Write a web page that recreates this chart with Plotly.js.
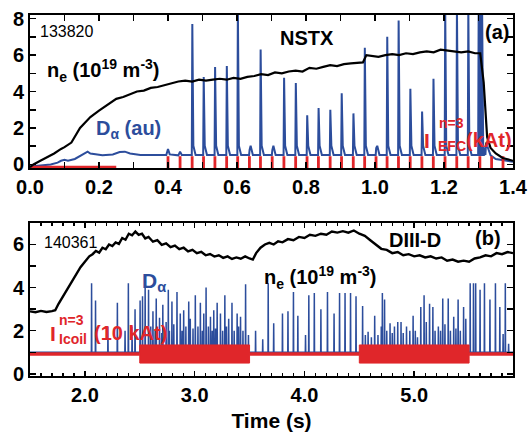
<!DOCTYPE html>
<html>
<head>
<meta charset="utf-8">
<script src="https://cdn.plot.ly/plotly-3.0.1.min.js"></script>
<style>html,body{margin:0;padding:0;background:#fff;}#chart{width:531px;height:441px;}</style>
</head>
<body>
<div id="chart"></div>
<script>
// ---------- Panel (a) NSTX 133820 ----------
const neA_t = [0.00,0.01,0.03,0.05,0.07,0.09,0.10,0.12,0.13,0.145,0.16,0.175,0.20,0.225,0.25,0.27,0.29,0.31,0.33,0.35,0.37,0.39,0.41,0.43,0.45,0.47,0.49,0.51,0.53,0.55,0.57,0.59,0.61,0.63,0.65,0.67,0.69,0.71,0.73,0.75,0.77,0.79,0.81,0.83,0.85,0.87,0.89,0.91,0.93,0.95,0.965,0.975,0.99,1.01,1.03,1.05,1.07,1.09,1.11,1.13,1.15,1.17,1.19,1.21,1.23,1.25,1.27,1.29,1.305,1.315,1.325,1.335,1.35,1.37,1.40];
const neA_v = [-0.15,0.0,0.2,0.4,0.6,0.85,0.95,1.2,1.5,2.0,2.3,2.6,2.95,3.3,3.6,3.7,3.85,4.0,4.05,4.2,4.25,4.35,4.45,4.55,4.6,4.55,4.65,4.6,4.65,4.7,4.65,4.75,4.7,4.8,4.85,4.95,4.9,5.05,5.0,5.1,5.15,5.1,5.3,5.25,5.35,5.45,5.4,5.5,5.55,5.6,5.6,6.0,5.95,5.9,6.0,6.05,6.0,6.1,6.05,6.15,6.2,6.15,6.3,6.25,6.2,6.15,6.2,6.1,6.1,4.5,1.5,0.9,0.6,0.35,0.2];

// D-alpha (au) early baseline before ELM pacing
const daA_baseT = [0.00,0.03,0.06,0.08,0.09,0.10,0.11,0.13,0.145,0.16,0.167,0.175,0.19,0.21,0.24,0.26,0.275,0.29,0.32,0.36,0.395,0.40,0.405,0.43,0.435,0.44,0.46];
const daA_baseV = [-0.12,-0.05,0.0,0.1,0.2,0.25,0.2,0.3,0.45,0.6,0.7,0.6,0.55,0.5,0.55,0.68,0.7,0.6,0.52,0.5,0.52,0.85,0.55,0.5,0.7,0.52,0.52];
const daA_level = 0.52;
// ELM spike times and peak heights (au)
const elmA_t = [0.470,0.503,0.536,0.570,0.602,0.636,0.668,0.702,0.736,0.770,0.803,0.836,0.870,0.903,0.937,0.970,1.003,1.035,1.068,1.102,1.136,1.169,1.203,1.237,1.270,1.300,1.305,1.310];
const elmA_p = [7.7,4.8,5.35,5.4,8.6,0.8,6.3,0.8,4.75,4.47,2.7,3.1,3.0,3.9,2.8,6.4,0.9,7.0,7.9,4.15,2.9,4.7,8.6,8.6,8.6,8.6,8.6,8.6];
const daA_tailT = [1.322,1.335,1.35,1.40];
const daA_tailV = [1.2,0.5,0.3,0.15];

// n=3 EFC current (kAt): DC segment and pulse train
const efcDC_t = [0.0,0.25];
const efcDC_v = [-0.15,-0.15];
const efcPulse_t = [0.400,0.435,0.470,0.503,0.536,0.570,0.602,0.636,0.668,0.702,0.736,0.770,0.803,0.836,0.870,0.903,0.937,0.970,1.003,1.035,1.068,1.102,1.136,1.169,1.203,1.237,1.270,1.304,1.338,1.371];
const efcPulse_lo = -0.2;
const efcPulse_hi = 0.45;

// ---------- Panel (b) DIII-D 140361 ----------
const neB_t = [1.50,1.55,1.60,1.65,1.70,1.73,1.76,1.80,1.84,1.88,1.92,1.96,2.00,2.04,2.07,2.10,2.13,2.16,2.19,2.22,2.25,2.28,2.31,2.34,2.37,2.40,2.43,2.46,2.49,2.52,2.55,2.58,2.62,2.66,2.70,2.74,2.78,2.82,2.86,2.90,2.94,2.98,3.02,3.06,3.10,3.14,3.18,3.22,3.26,3.30,3.34,3.38,3.42,3.46,3.50,3.53,3.56,3.60,3.64,3.68,3.72,3.76,3.80,3.85,3.90,3.95,4.00,4.05,4.10,4.15,4.20,4.25,4.30,4.35,4.40,4.45,4.50,4.55,4.60,4.65,4.70,4.75,4.80,4.85,4.90,4.95,5.00,5.05,5.10,5.15,5.20,5.25,5.30,5.35,5.40,5.45,5.50,5.55,5.60,5.65,5.70,5.75,5.80,5.85,5.90];
const neB_v = [2.90,2.86,2.92,2.87,2.91,2.95,3.25,3.6,3.95,4.3,4.65,4.95,5.2,5.45,5.55,5.7,5.62,5.85,5.78,6.0,5.93,6.1,6.03,6.3,6.22,6.5,6.43,6.6,6.45,6.5,6.28,6.35,6.13,6.2,5.98,6.05,5.88,5.95,5.78,5.85,5.68,5.75,5.6,5.66,5.5,5.56,5.44,5.5,5.38,5.45,5.33,5.4,5.34,5.45,5.35,5.3,5.6,5.85,6.0,6.08,6.0,6.15,6.1,6.25,6.2,6.35,6.3,6.45,6.4,6.5,6.45,6.6,6.55,6.62,6.55,6.65,6.5,6.4,6.2,6.0,5.8,5.75,5.6,5.65,5.5,5.55,5.45,5.5,5.4,5.45,5.35,5.4,5.25,5.3,5.2,5.25,5.2,5.35,5.4,5.5,5.45,5.6,5.55,5.65,5.6];

const daB_level = 1.0;
const elmB_t = [2.061,2.097,2.21,2.296,2.366,2.396,2.43,2.457,2.503,2.525,2.549,2.58,2.60,2.62,2.64,2.65,2.68,2.70,2.71,2.74,2.76,2.77,2.793,2.81,2.839,2.869,2.885,2.90,2.92,2.946,2.96,2.985,3.006,3.03,3.052,3.07,3.083,3.104,3.125,3.144,3.16,3.174,3.19,3.205,3.235,3.255,3.275,3.29,3.31,3.34,3.36,3.387,3.40,3.418,3.44,3.464,3.49,3.555,3.62,3.67,3.72,3.80,3.85,3.90,3.94,4.01,4.04,4.09,4.15,4.21,4.27,4.32,4.37,4.42,4.47,4.53,4.555,4.58,4.61,4.64,4.67,4.70,4.71,4.73,4.75,4.78,4.80,4.82,4.85,4.88,4.90,4.93,4.96,4.99,5.01,5.03,5.06,5.09,5.11,5.14,5.17,5.19,5.22,5.24,5.26,5.28,5.31,5.33,5.36,5.38,5.40,5.42,5.45,5.47,5.51,5.54,5.56,5.60,5.64,5.69,5.74,5.78,5.81,5.83,5.86];
const elmB_p = [4.2,3.4,2.2,3.3,2.0,4.2,2.2,3.0,3.4,3.6,4.2,3.9,2.2,2.9,2.0,3.5,2.6,1.9,3.2,2.4,3.9,2.0,3.35,2.3,3.8,2.8,2.0,2.95,2.2,3.35,2.55,2.1,3.65,2.2,3.3,2.0,2.8,4.0,2.2,2.65,2.0,2.95,2.1,3.3,2.8,2.0,3.65,2.2,2.55,3.3,2.0,2.8,2.2,2.65,2.0,4.15,1.8,2.0,1.6,4.2,2.35,2.8,2.9,3.8,2.7,1.8,3.65,3.75,3.0,3.8,2.8,3.75,3.75,3.75,3.6,3.15,1.8,1.95,1.7,2.7,1.8,2.2,3.75,3.45,2.0,2.35,1.9,2.2,2.4,2.4,1.9,2.2,2.0,2.7,2.0,1.7,3.1,3.65,2.4,3.25,3.1,2.0,2.2,2.0,3.5,2.3,3.5,2.0,2.65,2.1,3.45,2.0,3.1,2.55,4.2,4.2,4.2,3.9,4.2,3.45,4.2,3.1,1.85,4.2,1.4];

// n=3 I-coil current (10 kAt): off level and on windows
const icoilOff_level = 0.92;
const icoilOn_start = [2.5,4.5];
const icoilOn_end = [3.5,5.5];
const icoilOn_lo = 0.5;
const icoilOn_hi = 1.34;

// ---------- Colours / fonts ----------
const BLUE = '#2c4d9c';
const RED = '#e0262a';
const FF = "'Liberation Sans Narrow', 'Liberation Sans', Arial, sans-serif";

// ---------- Build traces ----------
const traces = [];

// Panel a: D-alpha
(function(){
  const x = daA_baseT.slice(), y = daA_baseV.slice();
  for (let i=0;i<elmA_t.length;i++){
    const t = elmA_t[i], p = elmA_p[i];
    x.push(t-0.001, t+0.0005, t+0.0035, t+0.010);
    y.push(daA_level, p, daA_level + 0.5, daA_level);
  }
  for (let i=0;i<daA_tailT.length;i++){ x.push(daA_tailT[i]); y.push(daA_tailV[i]); }
  traces.push({x:x, y:y, xaxis:'x', yaxis:'y', type:'scatter', mode:'lines', line:{color:BLUE, width:2}, hoverinfo:'skip'});
})();

// Panel a: EFC current
traces.push({x:efcDC_t, y:efcDC_v, xaxis:'x', yaxis:'y', type:'scatter', mode:'lines', line:{color:RED, width:3}, hoverinfo:'skip'});
(function(){
  const x=[], y=[];
  efcPulse_t.forEach(t=>{ x.push(t,t,null); y.push(efcPulse_lo, efcPulse_hi, null); });
  traces.push({x:x, y:y, xaxis:'x', yaxis:'y', type:'scatter', mode:'lines', line:{color:RED, width:2.8}, hoverinfo:'skip'});
})();

// Panel a: density
traces.push({x:neA_t, y:neA_v, xaxis:'x', yaxis:'y', type:'scatter', mode:'lines', line:{color:'#000', width:2.2}, hoverinfo:'skip'});

// Panel b: D-alpha
(function(){
  const x=[1.5], y=[daB_level];
  for (let i=0;i<elmB_t.length;i++){
    const t=elmB_t[i], p=elmB_p[i];
    x.push(t-0.002, t, t+0.002);
    y.push(daB_level, p, daB_level);
  }
  x.push(5.9); y.push(daB_level);
  traces.push({x:x, y:y, xaxis:'x2', yaxis:'y2', type:'scatter', mode:'lines', line:{color:BLUE, width:1.5}, hoverinfo:'skip'});
})();

// Panel b: I-coil current
(function(){
  const x=[1.5, icoilOn_start[0], null, icoilOn_end[0], icoilOn_start[1], null, icoilOn_end[1], 5.9];
  const y=[icoilOff_level, icoilOff_level, null, icoilOff_level, icoilOff_level, null, icoilOff_level, icoilOff_level];
  traces.push({x:x, y:y, xaxis:'x2', yaxis:'y2', type:'scatter', mode:'lines', line:{color:RED, width:3.5}, hoverinfo:'skip'});
  for (let i=0;i<icoilOn_start.length;i++){
    const s=icoilOn_start[i], e=icoilOn_end[i];
    traces.push({x:[s,e,e,s,s], y:[icoilOn_lo,icoilOn_lo,icoilOn_hi,icoilOn_hi,icoilOn_lo], xaxis:'x2', yaxis:'y2', type:'scatter', mode:'lines', fill:'toself', fillcolor:RED, line:{color:RED, width:1}, hoverinfo:'skip'});
  }
})();

// Panel b: density
traces.push({x:neB_t, y:neB_v, xaxis:'x2', yaxis:'y2', type:'scatter', mode:'lines', line:{color:'#000', width:2.4}, hoverinfo:'skip'});

// ---------- Layout ----------
const tickFont = {family:FF, size:20, color:'#000', weight:'bold'};
function axisBase(extra){
  return Object.assign({showline:true, linewidth:2, linecolor:'#000', mirror:'ticks', ticks:'inside', tickwidth:1.5, tickcolor:'#000', showgrid:false, zeroline:false, tickfont:tickFont}, extra);
}
function ann(xref, yref, x, y, text, color, size, weight){
  return {xref:xref, yref:yref, x:x, y:y, text:text, showarrow:false, xanchor:'left', yanchor:'middle',
          font:{family:FF, size:size, color:color, weight:weight||'bold'}};
}
const annotations = [
  ann('x','y',0.023,7.27,'133820','#000',16,'normal'),
  ann('x','y',0.719,6.94,'NSTX','#000',20),
  ann('x','y',1.313,7.27,'(a)','#000',20),
  ann('x','y',0.043,5.18,'n<sub>e</sub> (10<sup>19</sup> m<sup>-3</sup>)','#000',20),
  ann('x','y',0.186,1.89,'D<sub>α</sub> (au)',BLUE,20),
  ann('x','y',1.136,1.34,'I',RED,21),
  ann('x','y',1.18,2.27,'n=3',RED,14),
  ann('x','y',1.177,1.0,'EFC',RED,14),
  ann('x','y',1.258,1.34,'(kAt)',RED,20),

  ann('x2','y2',1.609,6.07,'140361','#000',16,'normal'),
  ann('x2','y2',4.752,6.21,'DIII-D','#000',20),
  ann('x2','y2',5.536,6.30,'(b)','#000',20),
  ann('x2','y2',2.502,4.26,'D<sub>α</sub>',BLUE,21),
  ann('x2','y2',3.614,4.49,'n<sub>e</sub> (10<sup>19</sup> m<sup>-3</sup>)','#000',20),
  ann('x2','y2',1.664,1.89,'I',RED,21),
  ann('x2','y2',1.746,2.50,'n=3',RED,14),
  ann('x2','y2',1.746,1.62,'Icoil',RED,14),
  ann('x2','y2',2.065,1.89,'(10 kAt)',RED,20)
];

const layout = {
  width:531, height:441,
  margin:{l:30, r:18, t:15, b:65},
  paper_bgcolor:'#fff', plot_bgcolor:'#fff',
  showlegend:false,
  xaxis: axisBase({domain:[0,1], anchor:'y', range:[0,1.4], tick0:0, dtick:0.2, tickformat:'.1f', ticklen:6,
          minor:{dtick:0.1, ticks:'inside', ticklen:6, tickwidth:1.5, tickcolor:'#000', showgrid:false}}),
  yaxis: axisBase({domain:[0.576,1], anchor:'x', range:[-0.2,8.2], tick0:0, dtick:2, ticklen:6,
          minor:{dtick:1, ticks:'inside', ticklen:6, tickwidth:1.5, tickcolor:'#000', showgrid:false}}),
  xaxis2: axisBase({domain:[0,1], anchor:'y2', range:[1.5,5.9], tick0:0, dtick:1, tickformat:'.1f', ticklen:5,
          minor:{dtick:0.1, ticks:'inside', ticklen:3, tickwidth:1.2, tickcolor:'#000', showgrid:false},
          title:{text:'Time (s)', font:{family:FF, size:21, color:'#000', weight:'bold'}, standoff:8}}),
  yaxis2: axisBase({domain:[0,0.424], anchor:'x2', range:[-0.1,7.0], tick0:0, dtick:2, ticklen:6,
          minor:{dtick:1, ticks:'inside', ticklen:6, tickwidth:1.5, tickcolor:'#000', showgrid:false}}),
  annotations: annotations
};

Plotly.newPlot('chart', traces, layout, {displayModeBar:false, staticPlot:true});
</script>
</body>
</html>
